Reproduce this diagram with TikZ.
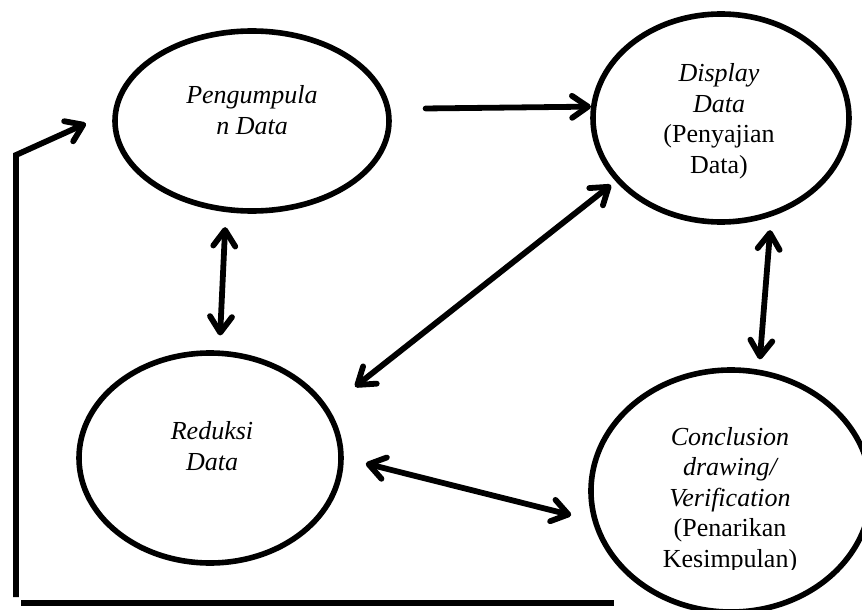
\documentclass[tikz,border=0pt]{standalone}
\usepackage{fontspec}
\setmainfont{Liberation Serif}
\usetikzlibrary{arrows.meta,shapes.geometric}
\begin{document}
\begin{tikzpicture}[x=1pt,y=-1pt,
  ell/.style={draw, ellipse, line width=5.6pt, inner sep=0pt},
  txt/.style={align=center, font=\fontsize{26}{30.5}\selectfont, inner sep=0pt},
  tipa/.tip={Straight Barb[length=16pt,width=22pt,round]},
  con/.style={line width=5.8pt, line cap=round, -tipa},
  dcon/.style={line width=5.8pt, line cap=round, tipa-tipa},
  plain/.style={line width=6pt}
]
\useasboundingbox (0,0) rectangle (862,610);
% ellipses
\node[ell, minimum width=274pt, minimum height=180pt] (p) at (252,121) {};
\node[ell, minimum width=256pt, minimum height=208pt] (d) at (721,118) {};
\node[ell, minimum width=262pt, minimum height=210pt] (r) at (210,458) {};
\node[ell, minimum width=280pt, minimum height=242pt] (c) at (731,491) {};
% texts
\node[txt] (pt) at (252,110) {\itshape Pengumpula\\\itshape n Data};
\node[txt] (dt) at (719,121) {\itshape Display\\\itshape Data\\(Penyajian\\Data)};
\node[txt] (rt) at (212,446) {\itshape Reduksi\\\itshape Data};
\begin{scope}
\clip (560,360) rectangle (862,569);
\node[txt] (ct) at (730,500) {\itshape Conclusion\\\itshape drawing/\\\itshape Verification\\(Penarikan\\Kesimpulan)};
\end{scope}
% connectors
\draw[con, shorten <=35pt] (p.5.5) -- (d.175.5);
\draw[dcon, shorten <=15pt, shorten >=15pt] (p.254.8) -- (r.85.1);
\draw[dcon, shorten <=6pt, shorten >=34pt] (d.-149.3) -- (r.23.5);
\draw[dcon, shorten <=13.6pt, shorten >=10.3pt] (d.-63.6) -- (c.77.0);
\draw[dcon, shorten <=22.7pt, shorten >=21.8pt] (r.0.67) -- (c.192.2);
% feedback loop
\coordinate (f1) at (16,597);
\coordinate (f2) at (16,155);
\draw[con, line cap=butt, shorten >=29.7pt] (f1) -- (f2) -- (p.176.9);
\coordinate (b1) at (21,603);
\coordinate (b2) at (614,603);
\draw[plain] (b1) -- (b2);
\end{tikzpicture}
\end{document}
